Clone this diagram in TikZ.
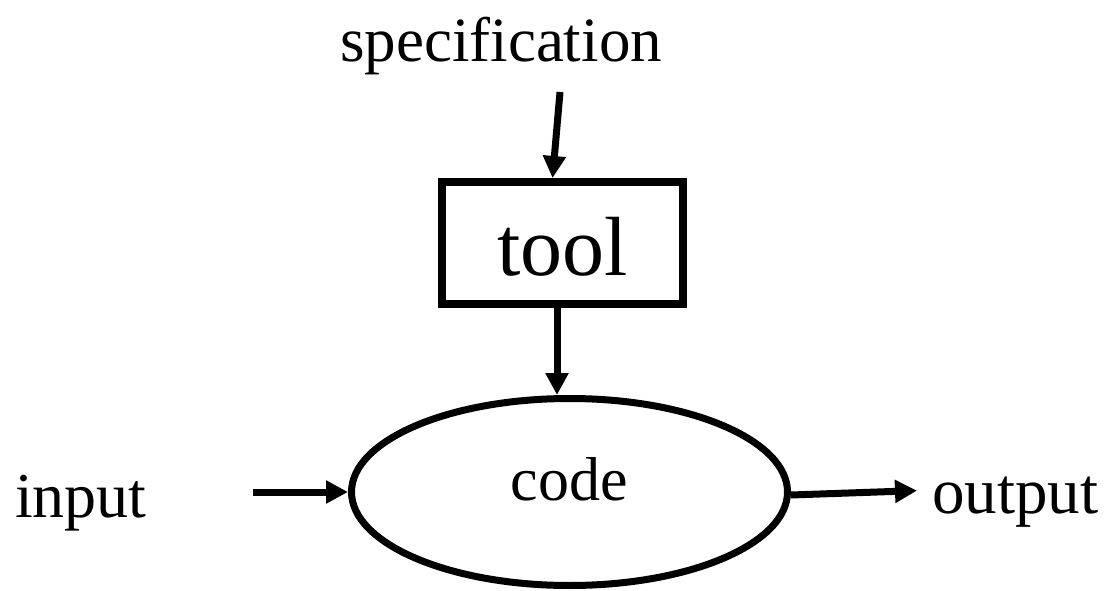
\documentclass[tikz,border=0pt]{standalone}
\usepackage{fontspec}
\setmainfont{Liberation Serif}
\usetikzlibrary{arrows.meta, positioning, shapes}
\tikzset{
        x=1pt, y=-1pt, % one unit is one pixel of the picture
        flow/.style={-{Triangle[length=22pt,width=22pt]}, line width=7pt}, % bold arrows
        label text/.style={inner sep=0pt}, % plain text without frame
    }
\tikzstyle{block}=[draw,rectangle,line width=8pt,minimum width=241pt,minimum height=122pt,inner sep=0pt,text height=64pt,text depth=0pt]
\tikzstyle{process}=[draw,ellipse,line width=7pt,minimum width=436pt,minimum height=187pt,inner sep=0pt,text depth=26pt]

\begin{document}
\begin{tikzpicture}
    \useasboundingbox (0,0) rectangle (1109,591);
    \node[label text, anchor=base] (spec) at (501,62)
        {\fontsize{63}{70}\selectfont specification};
    \node[block] (tool) at (562.5,243)
        {\fontsize{84}{90}\selectfont tool};
    \node[process] (code) at (569.5,492)
        {\fontsize{62}{70}\selectfont code};
    \node[label text, anchor=base west] (input) at (15,517)
        {\fontsize{64}{70}\selectfont input};
    \node[label text, anchor=base west] (output) at (932,513)
        {\fontsize{65}{70}\selectfont output};
    \coordinate (specarrow) at (560,92);
    \coordinate (inarrow) at (253,492);
    \draw[flow] (specarrow) -- ([xshift=-10pt]tool.north);
    \draw[flow] ([xshift=-5.5pt]tool.south) -- ([xshift=-5.5pt]tool.south |- code.north);
    \draw[flow] (inarrow) -- (code.west);
    \draw[flow] ([yshift=-3pt]code.east) -- ([xshift=-15pt,yshift=11pt]output.west);
  \end{tikzpicture}
\end{document}
